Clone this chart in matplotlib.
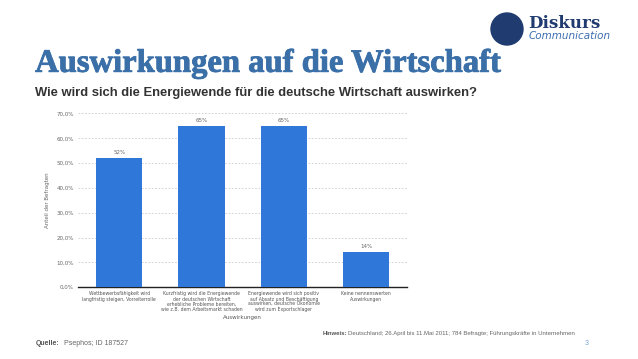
import numpy as np
import matplotlib.pyplot as plt
import matplotlib.patheffects as pe
from matplotlib.patches import Circle

categories = [
    "Wettbewerbsfähigkeit wird\nlangfristig steigen, Vorreiterrolle",
    "Kurzfristig wird die Energiewende\nder deutschen Wirtschaft\nerhebliche Probleme bereiten,\nwie z.B. dem Arbeitsmarkt schaden",
    "Energiewende wird sich positiv\nauf Absatz und Beschäftigung\nauswirken, deutsche Ökonomie\nwird zum Exportschlager",
    "Keine nennenswerten\nAuswirkungen",
]
values = [52, 65, 65, 14]
yticks = [0, 10, 20, 30, 40, 50, 60, 70]

bar_color = "#2f78d9"
title_color = "#3a6fa8"

fig = plt.figure(figsize=(6.38, 3.59), dpi=100)
ax = fig.add_axes([0.1223, 0.2, 0.516, 0.484])

x = np.arange(len(values))
ax.bar(x, values, width=0.56, color=bar_color, zorder=3)
for xi, v in zip(x, values):
    ax.text(xi, v + 1.2, f"{v}%", ha="center", va="bottom", fontsize=4.0, color="#666666")

ax.set_xlim(-0.5, 3.5)
ax.set_ylim(0, 70)
ax.set_yticks(yticks)
ax.set_yticklabels([f"{t},0%" for t in yticks], fontsize=4.0, color="#666666")
ax.set_xticks(x)
ax.set_xticklabels(categories, fontsize=3.3, color="#555555", linespacing=1.05)
ax.tick_params(axis="both", length=0, pad=3)
ax.grid(axis="y", linestyle=(0, (2, 2)), color="#cccccc", linewidth=0.6, zorder=0)
for s in ["top", "right", "left"]:
    ax.spines[s].set_visible(False)
ax.spines["bottom"].set_color("#222222")
ax.spines["bottom"].set_linewidth(1.0)
ax.set_ylabel("Anteil der Befragten", fontsize=4.0, color="#666666", labelpad=5)
ax.set_xlabel("Auswirkungen", fontsize=4.0, color="#555555", labelpad=2)

fig.text(0.055, 0.80, "Auswirkungen auf die Wirtschaft", fontsize=23.5, fontweight="bold",
         family="Liberation Serif", color=title_color, va="baseline",
         path_effects=[pe.withStroke(linewidth=0.6, foreground=title_color)])
fig.text(0.055, 0.733, "Wie wird sich die Energiewende für die deutsche Wirtschaft auswirken?",
         fontsize=9.4, fontweight="bold", family="Liberation Sans", color="#333333", va="baseline")

fig.text(0.056, 0.04, "Quelle:", fontsize=5, fontweight="bold", color="#555555",
         family="Liberation Sans", va="baseline")
fig.text(0.1, 0.04, "Psephos; ID 187527", fontsize=5, color="#666666",
         family="Liberation Sans", va="baseline")
fig.text(0.506, 0.066, "Hinweis:", fontsize=4.3, fontweight="bold", color="#555555",
         family="Liberation Sans", va="baseline")
fig.text(0.546, 0.066, "Deutschland; 26.April bis 11.Mai 2011; 784 Befragte; Führungskräfte in Unternehmen",
         fontsize=4.3, color="#666666", family="Liberation Sans", va="baseline")
fig.text(0.916, 0.04, "3", fontsize=5, color="#7aa6d6", family="Liberation Sans", va="baseline")

# logo
logo = Circle((507, 359 - 29), 16, transform=None, color="#1f3b70")
fig.patches.append(logo)
fig.text(0.828, 0.922, "Diskurs", fontsize=12, fontweight="bold", family="DejaVu Serif",
         color="#1f3b70", va="baseline")
fig.text(0.828, 0.89, "Communication", fontsize=7.5, style="italic", family="DejaVu Sans",
         color="#3b6db0", va="baseline")

fig.savefig("out.png", dpi=100)
